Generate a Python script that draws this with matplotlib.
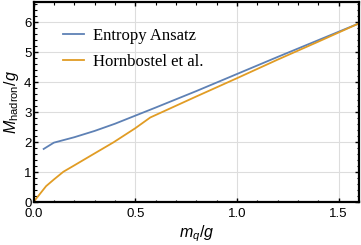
import numpy as np
import matplotlib.pyplot as plt
from matplotlib.ticker import MultipleLocator

plt.rcParams['mathtext.fontset'] = 'custom'
plt.rcParams['mathtext.rm'] = 'Liberation Sans'
plt.rcParams['mathtext.it'] = 'Liberation Sans:italic'
plt.rcParams['font.family'] = 'Liberation Sans'

# Entropy Ansatz
x_ent = [0.05, 0.1, 0.2, 0.3, 0.4, 0.5, 0.6, 0.8, 1.0, 1.2, 1.4, 1.6]
y_ent = [1.77, 1.98, 2.16, 2.37, 2.61, 2.88, 3.15, 3.7, 4.27, 4.84, 5.4, 5.96]
# Hornbostel et al.
x_hor = [0.0, 0.062, 0.1, 0.147, 0.2, 0.295, 0.393, 0.5, 0.574, 0.8, 1.0, 1.2, 1.4, 1.6]
y_hor = [0.0, 0.53, 0.75, 1.01, 1.22, 1.6, 1.99, 2.46, 2.82, 3.52, 4.13, 4.75, 5.35, 5.96]

fig = plt.figure(figsize=(3.61, 2.45), dpi=100)
ax = fig.add_axes([0.0928, 0.1755, 0.9017, 0.816])

ax.plot(x_ent, y_ent, color='#5E81B5', lw=1.3, label='Entropy Ansatz')
ax.plot(x_hor, y_hor, color='#E19C24', lw=1.3, label='Hornbostel et al.')

ax.set_xlim(0, 1.6)
ax.set_ylim(0, 6.67)
ax.xaxis.set_minor_locator(MultipleLocator(0.1))
ax.yaxis.set_major_locator(MultipleLocator(1))
ax.yaxis.set_minor_locator(MultipleLocator(0.2))
ax.set_xticks([0, 0.5, 1.0, 1.5])
ax.set_xticklabels(['0.0', '0.5', '1.0', '1.5'])
ax.grid(True, which='major', color='#dddddd', lw=0.8)
ax.tick_params(which='both', direction='in', top=True, right=True, labelsize=9.5, pad=1.5)
ax.tick_params(axis='x', which='both', pad=4.5)
ax.tick_params(which='major', length=3, width=1)
ax.tick_params(which='minor', length=1.8, width=0.8)
for s in ax.spines.values():
    s.set_linewidth(1.6)

ax.set_xlabel(r'$m_q/g$', fontsize=11.5, labelpad=2)
ax.set_ylabel(r'$M_\mathrm{hadron}/g$', fontsize=11.5, labelpad=2)

ax.legend(loc='upper left', bbox_to_anchor=(0.09, 0.87), frameon=False,
          borderaxespad=0, borderpad=0,
          prop={'family': 'Liberation Serif', 'size': 12}, handlelength=1.25,
          handletextpad=0.55, labelspacing=0.6)

fig.savefig('out.png', dpi=100)
